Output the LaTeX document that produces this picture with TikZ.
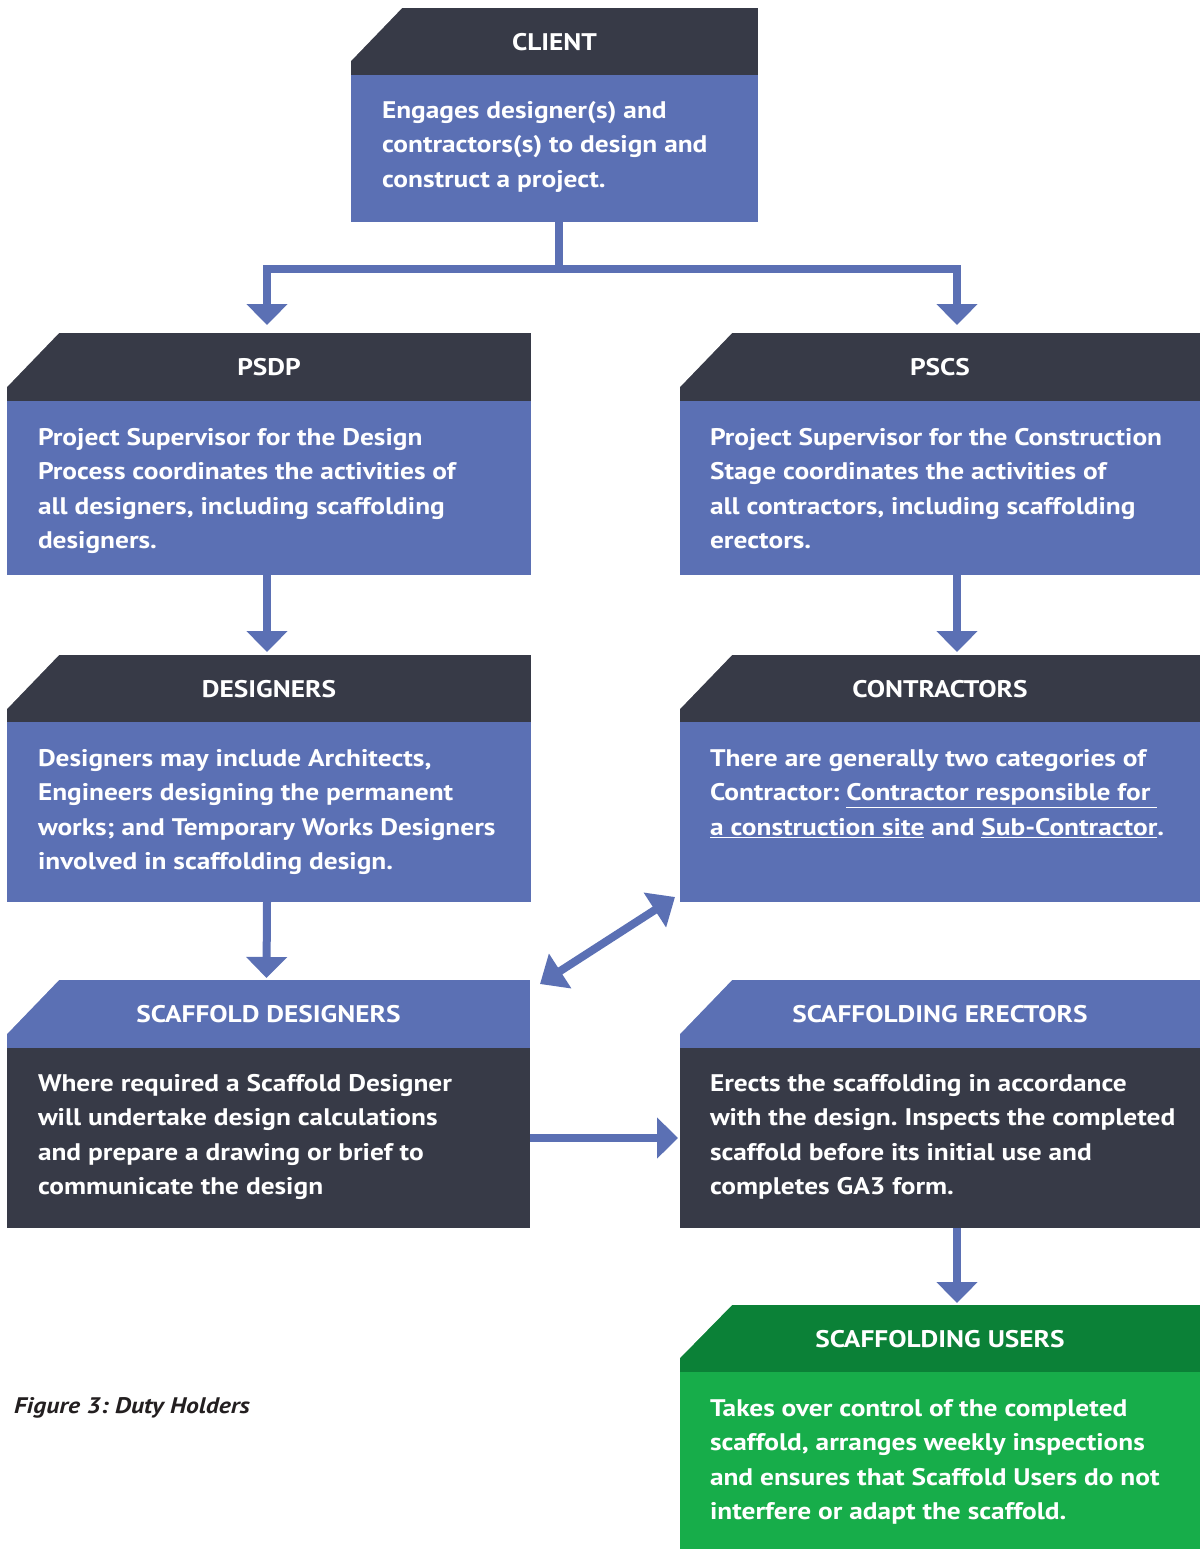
\documentclass[tikz,border=0pt]{standalone}
\usepackage{fontspec}
\setmainfont{PT Sans}[FakeStretch=1.14]
\usetikzlibrary{arrows.meta,calc}
\definecolor{dark}{HTML}{373A47}
\definecolor{blu}{HTML}{5B70B4}
\definecolor{dgreen}{HTML}{0B8137}
\definecolor{lgreen}{HTML}{17AD4A}
\definecolor{captxt}{HTML}{231F20}
\frenchspacing
\begin{document}
\begin{tikzpicture}[x=1pt,y=-1pt,
  hd/.style={anchor=north west, inner sep=0pt, outer sep=0pt, text=white,
    font=\bfseries\fontsize{24}{28}\selectfont},
  bd/.style={anchor=north west, inner sep=0pt, outer sep=0pt},
  txt/.style={anchor=north west, inner sep=0pt, outer sep=0pt, text=white, align=left,
    font=\bfseries\fontsize{24}{34.6}\selectfont},
  ln/.style={draw=blu, line width=8pt, line join=miter},
  arr/.style={ln, -{Triangle[width=40pt,length=21pt]}},
  darr/.style={ln, {Triangle[width=40pt,length=24pt]}-{Triangle[width=40pt,length=24pt]}}
]
\useasboundingbox (0,0) rectangle (1200,1549);
% CLIENT
\node[hd, fill=dark, minimum width=407pt, minimum height=68pt] (clienth) at (351,8) {CLIENT};
\fill[white] (350,6) -- (404,6) -- (350,62) -- cycle;
\node[bd, fill=blu, minimum width=407pt, minimum height=147pt] (clientb) at (351,75) {};
\node[txt] (clientt) at (382,101) {Engages designer(s) and\\contractors(s) to design and\\construct a project.};
% PSDP
\node[hd, fill=dark, minimum width=524pt, minimum height=69pt] (psdph) at (7,333) {PSDP};
\fill[white] (6,332) -- (60,332) -- (6,388) -- cycle;
\node[bd, fill=blu, minimum width=524pt, minimum height=174pt] (psdpb) at (7,401) {};
\node[txt] (psdpt) at (38,428) {Project Supervisor for the Design\\Process coordinates the activities of\\all designers, including scaffolding\\designers.};
% PSCS
\node[hd, fill=dark, minimum width=520pt, minimum height=69pt] (pscsh) at (680,333) {PSCS};
\fill[white] (679,332) -- (733,332) -- (679,388) -- cycle;
\node[bd, fill=blu, minimum width=520pt, minimum height=174pt] (pscsb) at (680,401) {};
\node[txt] (pscst) at (710,428) {Project Supervisor for the Construction\\Stage coordinates the activities of\\all contractors, including scaffolding\\erectors.};
% DESIGNERS
\node[hd, fill=dark, minimum width=524pt, minimum height=68pt] (desh) at (7,655) {DESIGNERS};
\fill[white] (6,654) -- (60,654) -- (6,710) -- cycle;
\node[bd, fill=blu, minimum width=524pt, minimum height=180pt] (desb) at (7,722) {};
\node[txt] (dest) at (38,749) {Designers may include Architects,\\Engineers designing the permanent\\works; and Temporary Works Designers\\involved in scaffolding design.};
% CONTRACTORS
\node[hd, fill=dark, minimum width=520pt, minimum height=68pt] (conh) at (680,655) {CONTRACTORS};
\fill[white] (679,654) -- (733,654) -- (679,710) -- cycle;
\node[bd, fill=blu, minimum width=520pt, minimum height=180pt] (conb) at (680,722) {};
\node[txt] (cont) at (710,749) {There are generally two categories of\\Contractor: \underline{Contractor responsible for }\\\underline{a construction site} and \underline{Sub-Contractor}.};
% SCAFFOLD DESIGNERS
\node[hd, fill=blu, minimum width=523pt, minimum height=69pt] (sdh) at (7,980) {SCAFFOLD DESIGNERS};
\fill[white] (6,979) -- (60,979) -- (6,1035) -- cycle;
\node[bd, fill=dark, minimum width=523pt, minimum height=180pt] (sdb) at (7,1048) {};
\node[txt] (sdt) at (38,1074) {Where required a Scaffold Designer\\will undertake design calculations\\and prepare a drawing or brief to\\communicate the design};
% SCAFFOLDING ERECTORS
\node[hd, fill=blu, minimum width=520pt, minimum height=69pt] (seh) at (680,980) {SCAFFOLDING ERECTORS};
\fill[white] (679,979) -- (733,979) -- (679,1035) -- cycle;
\node[bd, fill=dark, minimum width=520pt, minimum height=180pt] (seb) at (680,1048) {};
\node[txt] (set) at (710,1074) {Erects the scaffolding in accordance\\with the design. Inspects the completed\\scaffold before its initial use and\\completes GA3 form.};
% SCAFFOLDING USERS
\node[hd, fill=dgreen, minimum width=520pt, minimum height=68pt] (suh) at (680,1305) {SCAFFOLDING USERS};
\fill[white] (679,1304) -- (733,1304) -- (679,1359) -- cycle;
\node[bd, fill=lgreen, minimum width=520pt, minimum height=177pt] (sub) at (680,1372) {};
\node[txt] (sut) at (710,1399) {Takes over control of the completed\\scaffold, arranges weekly inspections\\and ensures that Scaffold Users do not\\interfere or adapt the scaffold.};
% caption
\node[anchor=west, inner sep=0pt, text=captxt, font=\bfseries\itshape\fontsize{22.5}{26}\selectfont] (cap) at (14,1408) {Figure 3: Duty Holders};
% connectors
\draw[ln] ([xshift=4pt]clientb.south) -- ++(0,47) coordinate (j);
\draw[arr, shorten >=8pt] (j) -| ([xshift=-2pt]psdph.north);
\draw[arr, shorten >=8pt] (j) -| ([xshift=17pt]pscsh.north);
\draw[arr, shorten >=3pt] ([xshift=-2pt]psdpb.south) -- ([xshift=-2pt]desh.north);
\draw[arr, shorten >=3pt] ([xshift=17pt]pscsb.south) -- ([xshift=17pt]conh.north);
\draw[arr, shorten >=2pt] ([xshift=-2pt]desb.south) -- ([xshift=-2pt]sdh.north);
\draw[darr] ($(sdh.north east)+(10,4)$) -- ($(conb.south west)+(-5,-5)$);
\draw[arr, shorten >=2pt] (sdb.east) -- (seb.west);
\draw[arr, shorten >=2pt] ([xshift=17pt]seb.south) -- ([xshift=17pt]suh.north);
\end{tikzpicture}
\end{document}
